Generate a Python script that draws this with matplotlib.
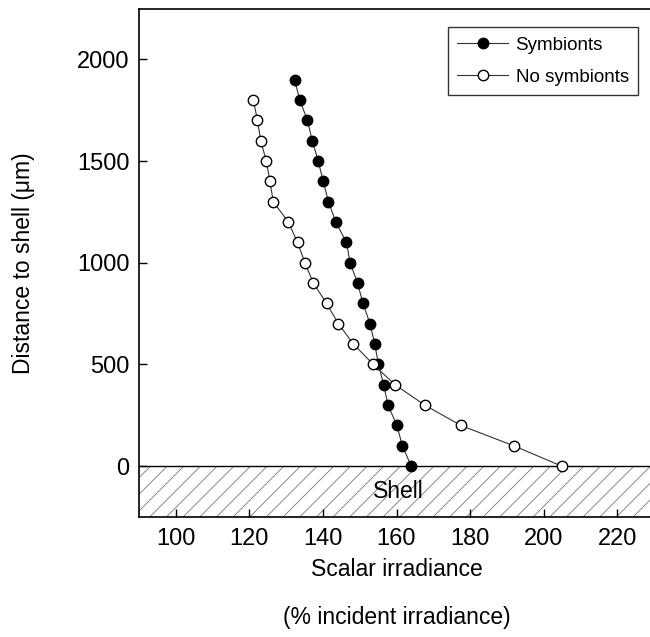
#!/usr/bin/env python3
"""Scalar irradiance profiles above the shell, with and without symbionts."""

import matplotlib

matplotlib.use("Agg")
import matplotlib.pyplot as plt
from matplotlib.patches import Rectangle

plt.rcParams["font.family"] = ["Liberation Sans", "DejaVu Sans"]
plt.rcParams["hatch.linewidth"] = 0.6

# distance to shell (um)
depth_sym = [0, 100, 200, 300, 400, 500, 600, 700, 800, 900, 1000,
             1100, 1200, 1300, 1400, 1500, 1600, 1700, 1800, 1900]
irr_sym = [164.0, 161.6, 160.1, 157.7, 156.5, 155.1, 154.1, 152.8, 150.9, 149.4, 147.4,
           146.4, 143.5, 141.5, 140.1, 138.7, 137.1, 135.8, 133.7, 132.3]

depth_nosym = [0, 100, 200, 300, 400, 500, 600, 700, 800, 900, 1000,
               1100, 1200, 1300, 1400, 1500, 1600, 1700, 1800]
irr_nosym = [204.9, 191.9, 177.5, 167.7, 159.6, 153.7, 148.3, 144.2, 141.0, 137.4, 135.1,
             133.1, 130.6, 126.5, 125.6, 124.6, 123.1, 122.2, 121.1]

x_ticks = [100, 120, 140, 160, 180, 200, 220]
y_ticks = [0, 500, 1000, 1500, 2000]

TICK_FS = 17
LABEL_FS = 16.5

fig = plt.figure(figsize=(6.5, 6.37), dpi=100)
ax = fig.add_axes([139 / 650, 120 / 637, 515 / 650, 508.5 / 637])

ax.set_xlim(90, 230)
ax.set_ylim(-250, 2250)

# shell region
ax.add_patch(Rectangle((90, -250), 140, 250, facecolor="white", edgecolor="#777777",
                       hatch="//", linewidth=0, zorder=1))
ax.axhline(0, color="black", linewidth=1.0, zorder=2)
ax.text(160.5, -125, "Shell", fontsize=LABEL_FS, ha="center", va="center", zorder=3)

ax.plot(irr_sym, depth_sym, color="#333333", linewidth=0.8, marker="o", markersize=7.5,
        markerfacecolor="black", markeredgecolor="black", label="Symbionts", zorder=4)
ax.plot(irr_nosym, depth_nosym, color="#333333", linewidth=0.8, marker="o", markersize=7.5,
        markerfacecolor="white", markeredgecolor="black", markeredgewidth=1.0,
        label="No symbionts", zorder=4)

ax.set_xticks(x_ticks)
ax.set_yticks(y_ticks)
ax.tick_params(direction="in", length=6, width=1.0, labelsize=TICK_FS, pad=7)
ax.tick_params(axis="x", pad=8)
for s in ax.spines.values():
    s.set_linewidth(1.2)

ax.set_ylabel("Distance to shell (\u03bcm)", fontsize=LABEL_FS, labelpad=30)
ax.set_xlabel("Scalar irradiance\n(% incident irradiance)", fontsize=LABEL_FS,
              linespacing=2.35, labelpad=6)

leg = ax.legend(loc="upper right", bbox_to_anchor=(638 / 650, 610 / 637),
                bbox_transform=fig.transFigure, fontsize=13.5, frameon=True,
                fancybox=False, edgecolor="black", handlelength=2.7,
                borderpad=0.5, labelspacing=0.8, handletextpad=0.4,
                borderaxespad=0)
leg.get_frame().set_linewidth(1.0)

fig.savefig("out.png", dpi=100)
